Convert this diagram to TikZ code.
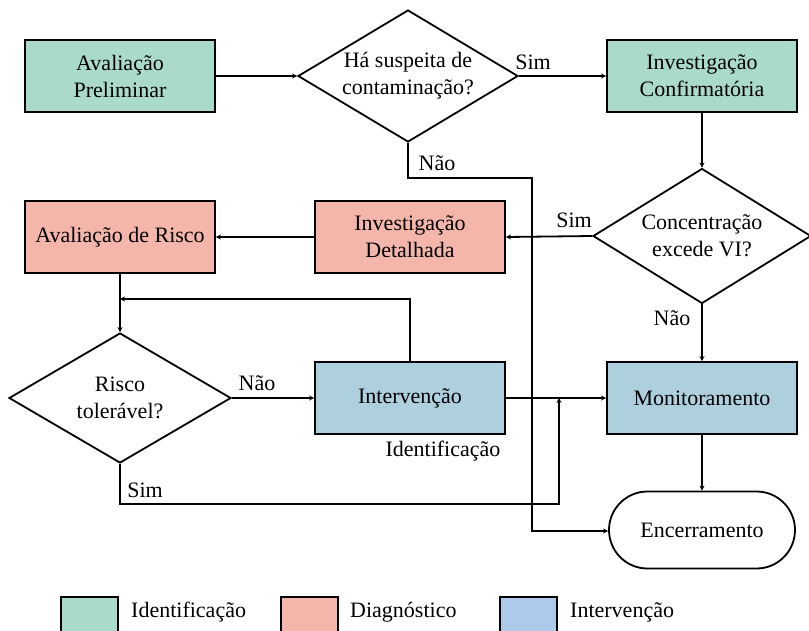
\documentclass[tikz,border=0pt]{standalone}
\usepackage{fontspec}
\setmainfont{Liberation Serif}
\usetikzlibrary{shapes.geometric,shapes.misc,arrows.meta}
\definecolor{cgreen}{HTML}{AADACC}
\definecolor{cred}{HTML}{F4B6AA}
\definecolor{cblue}{HTML}{ADCFDE}
\definecolor{clegblue}{HTML}{AECAEA}
\begin{document}
\begin{tikzpicture}[x=1pt,y=-1pt,
  every node/.style={font=\fontsize{22}{27}\selectfont},
  box/.style={draw=black,line width=1.8pt,rectangle,minimum width=190pt,minimum height=72pt,align=center,inner sep=2pt},
  decision/.style={draw=black,line width=1.8pt,diamond,fill=white,inner sep=0pt},
  dtext/.style={align=center,inner sep=0pt},
  term/.style={draw=black,line width=1.8pt,rounded rectangle,minimum width=190pt,minimum height=77pt,inner sep=2pt},
  conn/.style={line width=1.8pt,-{Stealth[length=5pt,width=5pt]}},
  lbl/.style={inner sep=0pt},
  legbox/.style={draw=black,line width=1.8pt}
]
\useasboundingbox (0,0) rectangle (809,630);
% nodes
\node[box,fill=cgreen] (ap) at (120,76) {Avaliação\\Preliminar};
\node[decision,minimum width=220pt,minimum height=132pt] (d1) at (408,76) {};
\node[dtext] (d1t) at (408,76) {Há suspeita de\\contaminação?};
\node[box,fill=cgreen] (ic) at (702,76) {Investigação\\Confirmatória};
\node[decision,minimum width=218pt,minimum height=135pt] (d2) at (702,236) {};
\node[dtext] (d2t) at (702,236) {Concentração\\excede VI?};
\node[box,fill=cred] (id) at (410,237) {Investigação\\Detalhada};
\node[box,fill=cred] (ar) at (120,237) {Avaliação de Risco};
\node[decision,minimum width=222pt,minimum height=130pt] (d3) at (120,398) {};
\node[dtext] (d3t) at (120,398) {Risco\\tolerável?};
\node[box,fill=cblue] (int) at (410,398) {Intervenção};
\node[box,fill=cblue] (mon) at (702,398) {Monitoramento};
\node[term] (enc) at (702,530) {Encerramento};
\node[lbl] (idl) at (443,451) {Identificação};
% helper coordinates
\coordinate (fb) at (120,299);
\coordinate (n1a) at (408,178);
\coordinate (n1b) at (532,178);
\coordinate (n1c) at (532,531);
\coordinate (s3a) at (120,504);
\coordinate (s3b) at (559,504);
\coordinate (sj) at (559,398);
% connectors
\draw[conn] (ap.east) -- (d1.west);
\draw[conn] (d1.east) -- (ic.west);
\draw[conn] (ic.south) -- (d2.north);
\draw[conn] (d2.west) -- (id.east);
\draw[conn] (id.west) -- (ar.east);
\draw[conn] (ar.south) -- (d3.north);
\draw[conn] (d3.east) -- (int.west);
\draw[conn] (int.north) |- (fb);
\draw[conn] (d2.south) -- (mon.north);
\draw[conn] (int.east) -- (mon.west);
\draw[conn] (d3.south) -- (s3a) -- (s3b) -- (sj);
\draw[conn] (d1.south) -- (n1a) -- (n1b) -- (n1c) -- (enc.west |- n1c);
\draw[conn] (mon.south) -- (enc.north);
% labels
\node[lbl] (l1) at (533,62) {Sim};
\node[lbl] (l2) at (437,163) {Não};
\node[lbl] (l3) at (574,220) {Sim};
\node[lbl] (l4) at (672,318) {Não};
\node[lbl] (l5) at (257,383) {Não};
\node[lbl] (l6) at (145,490) {Sim};
% legend
\draw[legbox,fill=cgreen] (61,597) rectangle (118,645);
\node[lbl,anchor=west] (lg1) at (131,612) {Identificação};
\draw[legbox,fill=cred] (281,597) rectangle (338,645);
\node[lbl,anchor=west] (lg2) at (350,612) {Diagnóstico};
\draw[legbox,fill=clegblue] (500,597) rectangle (557,645);
\node[lbl,anchor=west] (lg3) at (570,612) {Intervenção};
\end{tikzpicture}
\end{document}
